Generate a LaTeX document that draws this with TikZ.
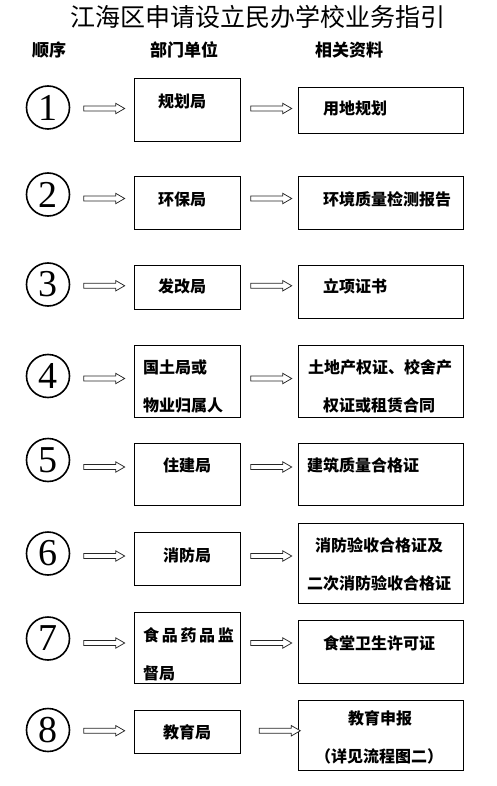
\documentclass[tikz,border=0pt]{standalone}
\usepackage{fontspec}
\setmainfont{Noto Sans CJK SC}
\newfontfamily\numfont{Liberation Serif}
\usetikzlibrary{shapes.arrows}

\begin{document}
\begin{tikzpicture}[x=1pt, y=-1pt,
    num/.style={circle, draw, line width=1.6pt, minimum size=43pt, inner sep=0pt, font=\numfont\fontsize{38pt}{38pt}\selectfont},
    box/.style={draw, line width=0.8pt, inner sep=0pt},
    dept/.style={box, minimum width=106pt},
    docs/.style={box, minimum width=165pt},
    txt/.style={anchor=west, inner sep=0pt, align=left, font=\bfseries\fontsize{16pt}{38pt}\selectfont},
    head/.style={anchor=west, inner sep=0pt, font=\bfseries\fontsize{17pt}{17pt}\selectfont},
    harrow/.style={single arrow, draw=black!85, line width=0.75pt, fill=white, inner sep=2.2pt,
        minimum height=41pt, minimum width=9.5pt, single arrow head extend=2.6pt, single arrow tip angle=60}
]
\useasboundingbox (0,0) rectangle (497,786);

% title and column heads
\node[font=\fontsize{25pt}{25pt}\selectfont] (title) at (257.5,17) {江海区申请设立民办学校业务指引};
\node[head] (hnum) at (32,50) {顺序};
\node[head] (hdept) at (150,50) {部门单位};
\node[head] (hdocs) at (315,50) {相关资料};

% order numbers
\node[num] (c1) at (48,107.5) {1};
\node[num] (c2) at (48,194.5) {2};
\node[num] (c3) at (48,284.5) {3};
\node[num] (c4) at (48,376) {4};
\node[num] (c5) at (48,460) {5};
\node[num] (c6) at (48,553.5) {6};
\node[num] (c7) at (48,638.5) {7};
\node[num] (c8) at (48,730) {8};

% departments
\node[dept, minimum height=63pt] (d1) at (187,109.5) {};
\node[dept, minimum height=53pt] (d2) at (187,202.5) {};
\node[dept, minimum height=44pt] (d3) at (187,287) {};
\node[dept, minimum height=72pt] (d4) at (187,381) {};
\node[dept, minimum height=62pt] (d5) at (187,474) {};
\node[dept, minimum height=53pt] (d6) at (187,558.5) {};
\node[dept, minimum height=71pt] (d7) at (187,647.5) {};
\node[dept, minimum height=43pt] (d8) at (187,731.5) {};

\node[txt] (d1t) at (158,101) {规划局};
\node[txt] (d2t) at (158,199) {环保局};
\node[txt] (d3t) at (158,286) {发改局};
\node[txt] (d4t) at (143,386) {国土局或\\物业归属人};
\node[txt] (d5t) at (163,465) {住建局};
\node[txt] (d6t) at (163,555) {消防局};
\node[txt] (d7t) at (143,654.5) {食\,品\,药\,品\,监\\督局};
\node[txt] (d8t) at (163,732) {教育局};

% documents
\node[docs, minimum height=46pt] (m1) at (380.5,110) {};
\node[docs, minimum height=53pt] (m2) at (380.5,202.5) {};
\node[docs, minimum height=53pt] (m3) at (380.5,291.5) {};
\node[docs, minimum height=72pt] (m4) at (380.5,381) {};
\node[docs, minimum height=62pt] (m5) at (380.5,474) {};
\node[docs, minimum height=80pt] (m6) at (380.5,563) {};
\node[docs, minimum height=63pt] (m7) at (380.5,651.5) {};
\node[docs, minimum height=70pt] (m8) at (380.5,735) {};

\node[txt] (m1t) at (323,108) {用地规划};
\node[txt] (m2t) at (323,199) {环境质量检测报告};
\node[txt] (m3t) at (323,286) {立项证书};
\node[txt] (m4t) at (308,386) {土地产权证、校舍产\\\hspace*{15pt}权证或租赁合同};
\node[txt] (m5t) at (307,465) {建筑质量合格证};
\node[txt] (m6t) at (307,564.5) {\hspace*{8pt}消防验收合格证及\\二次消防验收合格证};
\node[txt] (m7t) at (323,643) {食堂卫生许可证};
\node[txt] (m8t) at (315,737.5) {\hspace*{33pt}教育申报\\（详见流程图二）};

% arrows
\foreach \i/\p in {1/0.5,2/0.5,3/0.5,4/0.5,5/0.5,6/0.5,7/0.5,8/0.65} {
  \path (c\i.east) -- node[harrow] (a\i) {} (d\i.west);
  \path (d\i.east |- a\i) -- node[harrow, pos=\p] (b\i) {} (m\i.west |- a\i);
}
\end{tikzpicture}
\end{document}
